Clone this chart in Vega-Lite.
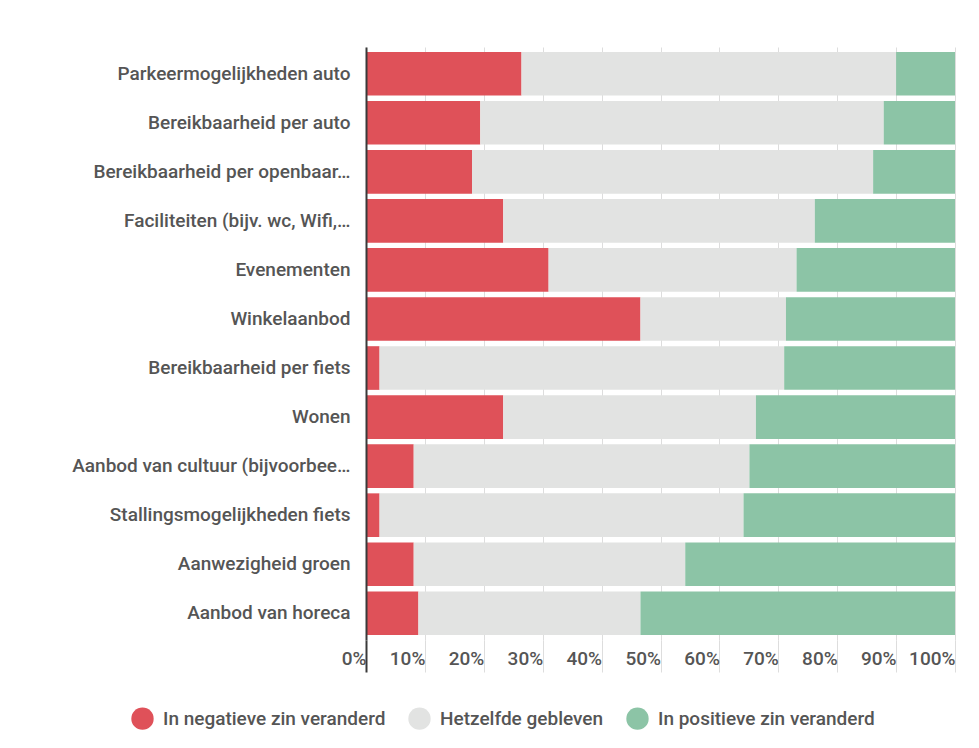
{
  "$schema": "https://vega.github.io/schema/vega-lite/v6.json",
  "width": 589,
  "height": 593,
  "padding": {"left": 71, "top": 47, "right": 20, "bottom": 10},
  "background": "#ffffff",
  "config": {
    "font": "Roboto",
    "view": {"stroke": null},
    "axis": {"labelFont": "Roboto", "labelFontWeight": 500}
  },
  "data": {
    "values": [
      {"item": "Parkeermogelijkheden auto", "response": "In negatieve zin veranderd", "k": 1, "pct": 26.4},
      {"item": "Parkeermogelijkheden auto", "response": "Hetzelfde gebleven", "k": 2, "pct": 63.6},
      {"item": "Parkeermogelijkheden auto", "response": "In positieve zin veranderd", "k": 3, "pct": 10.0},
      {"item": "Bereikbaarheid per auto", "response": "In negatieve zin veranderd", "k": 1, "pct": 19.4},
      {"item": "Bereikbaarheid per auto", "response": "Hetzelfde gebleven", "k": 2, "pct": 68.5},
      {"item": "Bereikbaarheid per auto", "response": "In positieve zin veranderd", "k": 3, "pct": 12.1},
      {"item": "Bereikbaarheid per openbaar…", "response": "In negatieve zin veranderd", "k": 1, "pct": 18.0},
      {"item": "Bereikbaarheid per openbaar…", "response": "Hetzelfde gebleven", "k": 2, "pct": 68.1},
      {"item": "Bereikbaarheid per openbaar…", "response": "In positieve zin veranderd", "k": 3, "pct": 13.9},
      {"item": "Faciliteiten (bijv. wc, Wifi,…", "response": "In negatieve zin veranderd", "k": 1, "pct": 23.3},
      {"item": "Faciliteiten (bijv. wc, Wifi,…", "response": "Hetzelfde gebleven", "k": 2, "pct": 52.9},
      {"item": "Faciliteiten (bijv. wc, Wifi,…", "response": "In positieve zin veranderd", "k": 3, "pct": 23.8},
      {"item": "Evenementen", "response": "In negatieve zin veranderd", "k": 1, "pct": 31.0},
      {"item": "Evenementen", "response": "Hetzelfde gebleven", "k": 2, "pct": 42.1},
      {"item": "Evenementen", "response": "In positieve zin veranderd", "k": 3, "pct": 26.9},
      {"item": "Winkelaanbod", "response": "In negatieve zin veranderd", "k": 1, "pct": 46.6},
      {"item": "Winkelaanbod", "response": "Hetzelfde gebleven", "k": 2, "pct": 24.7},
      {"item": "Winkelaanbod", "response": "In positieve zin veranderd", "k": 3, "pct": 28.7},
      {"item": "Bereikbaarheid per fiets", "response": "In negatieve zin veranderd", "k": 1, "pct": 2.3},
      {"item": "Bereikbaarheid per fiets", "response": "Hetzelfde gebleven", "k": 2, "pct": 68.7},
      {"item": "Bereikbaarheid per fiets", "response": "In positieve zin veranderd", "k": 3, "pct": 29.0},
      {"item": "Wonen", "response": "In negatieve zin veranderd", "k": 1, "pct": 23.3},
      {"item": "Wonen", "response": "Hetzelfde gebleven", "k": 2, "pct": 42.9},
      {"item": "Wonen", "response": "In positieve zin veranderd", "k": 3, "pct": 33.8},
      {"item": "Aanbod van cultuur (bijvoorbee…", "response": "In negatieve zin veranderd", "k": 1, "pct": 8.1},
      {"item": "Aanbod van cultuur (bijvoorbee…", "response": "Hetzelfde gebleven", "k": 2, "pct": 57.0},
      {"item": "Aanbod van cultuur (bijvoorbee…", "response": "In positieve zin veranderd", "k": 3, "pct": 34.9},
      {"item": "Stallingsmogelijkheden fiets", "response": "In negatieve zin veranderd", "k": 1, "pct": 2.3},
      {"item": "Stallingsmogelijkheden fiets", "response": "Hetzelfde gebleven", "k": 2, "pct": 61.8},
      {"item": "Stallingsmogelijkheden fiets", "response": "In positieve zin veranderd", "k": 3, "pct": 35.9},
      {"item": "Aanwezigheid groen", "response": "In negatieve zin veranderd", "k": 1, "pct": 8.1},
      {"item": "Aanwezigheid groen", "response": "Hetzelfde gebleven", "k": 2, "pct": 46.1},
      {"item": "Aanwezigheid groen", "response": "In positieve zin veranderd", "k": 3, "pct": 45.8},
      {"item": "Aanbod van horeca", "response": "In negatieve zin veranderd", "k": 1, "pct": 8.9},
      {"item": "Aanbod van horeca", "response": "Hetzelfde gebleven", "k": 2, "pct": 37.7},
      {"item": "Aanbod van horeca", "response": "In positieve zin veranderd", "k": 3, "pct": 53.4}
    ]
  },
  "mark": {"type": "bar"},
  "encoding": {
    "y": {
      "field": "item",
      "type": "nominal",
      "sort": null,
      "scale": {"paddingInner": 0.11, "paddingOuter": 0.1},
      "axis": {
        "title": null,
        "ticks": false,
        "grid": false,
        "domain": true,
        "domainColor": "#3a3a3a",
        "domainWidth": 2,
        "labelFontSize": 19,
        "labelColor": "#555555",
        "labelPadding": 16,
        "labelLimit": 400,
        "zindex": 1
      }
    },
    "x": {
      "field": "pct",
      "type": "quantitative",
      "stack": "normalize",
      "scale": {"domain": [0, 1], "nice": false},
      "axis": {
        "title": null,
        "values": [0, 0.1, 0.2, 0.3, 0.4, 0.5, 0.6, 0.7, 0.8, 0.9, 1],
        "format": ".0%",
        "domain": false,
        "grid": true,
        "gridColor": "#dddddd",
        "gridWidth": 1,
        "tickSize": 32,
        "tickColor": {"condition": {"test": "datum.value === 0", "value": "#3a3a3a"}, "value": "#dddddd"},
        "tickWidth": {"condition": {"test": "datum.value === 0", "value": 2}, "value": 1},
        "labelAlign": "right",
        "labelDx": -8,
        "labelPadding": -23,
        "labelFontSize": 19,
        "labelColor": "#555555",
        "labelBaseline": "top"
      }
    },
    "color": {
      "field": "response",
      "type": "nominal",
      "scale": {
        "domain": ["In negatieve zin veranderd", "Hetzelfde gebleven", "In positieve zin veranderd"],
        "range": ["#df5159", "#e2e3e2", "#8cc4a6"]
      },
      "legend": {
        "title": null,
        "orient": "none",
        "direction": "horizontal",
        "legendX": -235,
        "legendY": 660,
        "symbolType": "circle",
        "symbolSize": 500,
        "symbolStrokeWidth": 0,
        "labelFontSize": 19,
        "labelFont": "Roboto",
        "labelFontWeight": 500,
        "labelColor": "#555555",
        "labelOffset": 9,
        "columnPadding": 22,
        "labelLimit": 400
      }
    },
    "order": {"field": "k", "type": "quantitative"}
  }
}
